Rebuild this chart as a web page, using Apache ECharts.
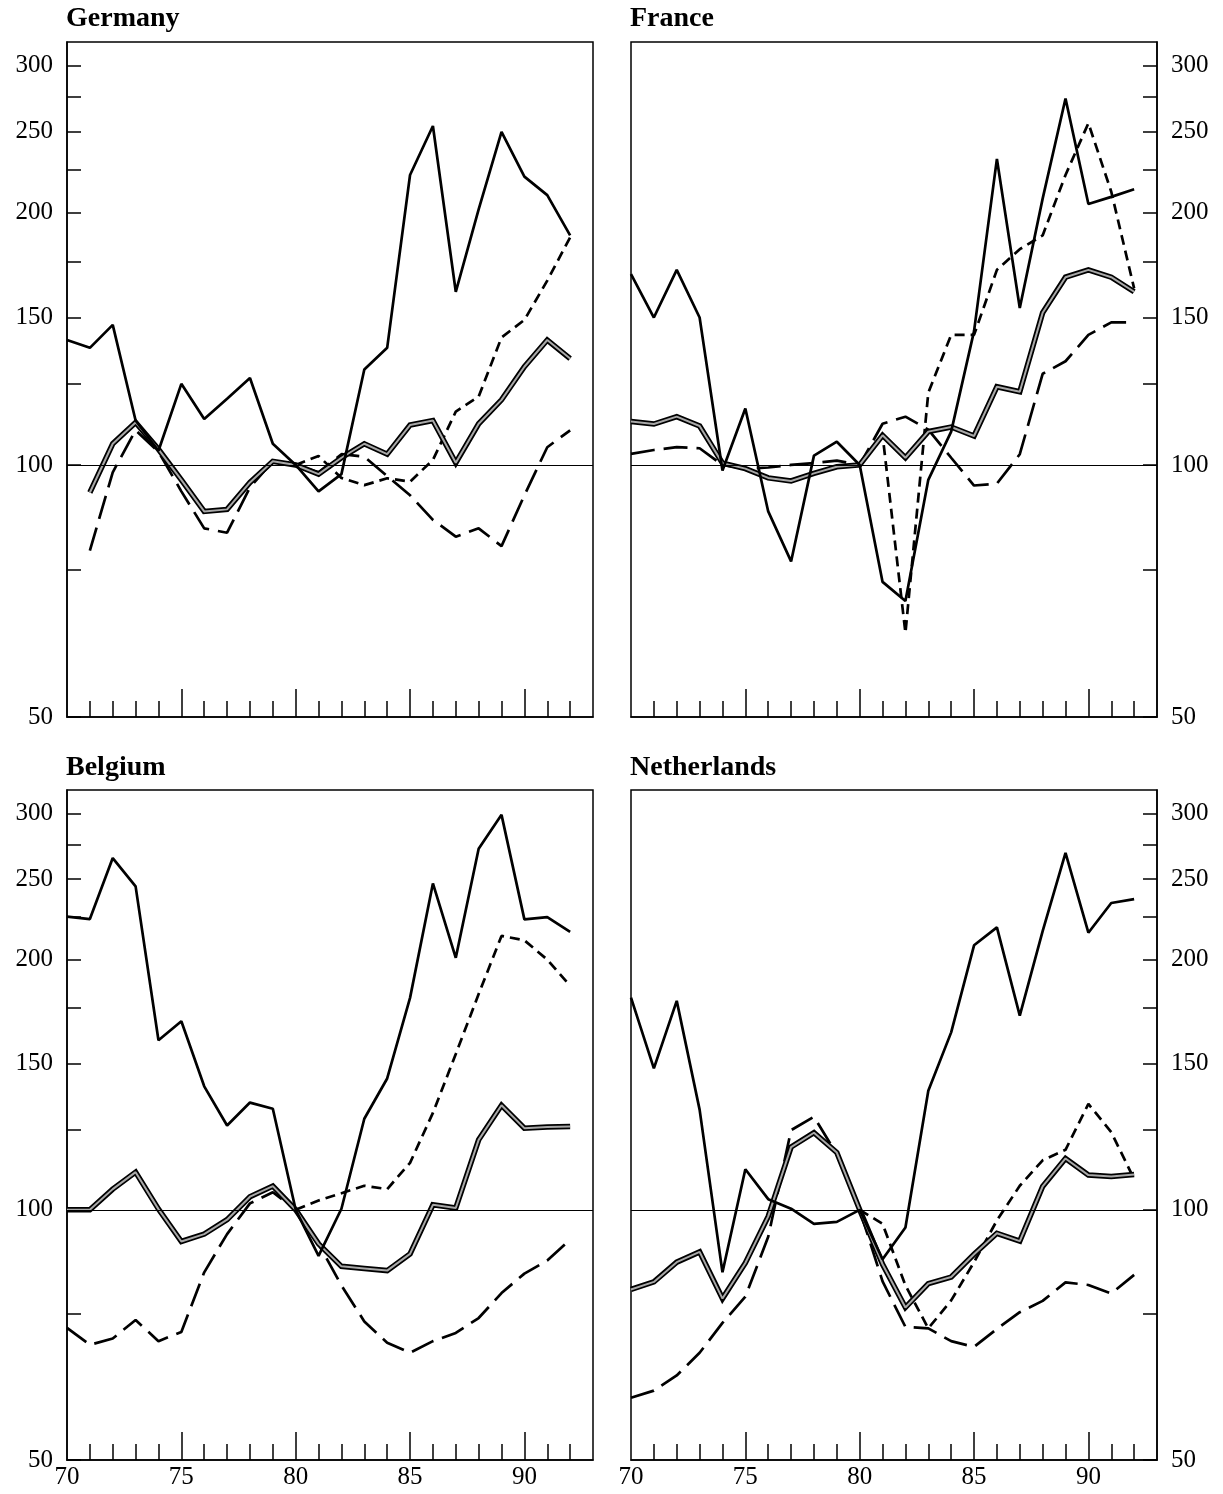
<!DOCTYPE html>
<html><head><meta charset="utf-8">
<script src="https://cdn.jsdelivr.net/npm/echarts@6/dist/echarts.min.js"></script>
<style>html,body{margin:0;padding:0;background:#fff}#c{width:1223px;height:1494px}</style>
</head><body><div id="c"></div>
<script>
const years = [70,71,72,73,74,75,76,77,78,79,80,81,82,83,84,85,86,87,88,89,90,91,92];
const panelNames = ['Germany','France','Belgium','Netherlands'];
const yTickValues = [50,75,100,125,150,175,200,225,250,275,300];
const yLabelValues = [50,100,150,200,250,300];
const xMinorTicks = [71,72,73,74,76,77,78,79,81,82,83,84,86,87,88,89,91,92];
const xMajorTicks = [75,80,85,90];
const xLabelValues = [70,75,80,85,90];

const N = null;
// Germany
const germanyThin  = [141,138,147,113,104,125,113.5,120,127,106,100,93,97.5,130,138,222,254,161,202,250,221,210,188];
const germanyGray  = [N,92.7,106,112.4,104.4,96,88,88.5,95.3,101,100,97.5,102,106,103,111.6,113,100.6,112,119.6,131,141,134];
const germanyLong  = [N,79,98,110,103.7,93,84,83,94,101,100,98,103,102.3,97,92,86,82.1,84,80,92,105,110];
const germanyShort = [N,N,N,N,N,N,N,N,N,N,100,102.5,96.5,94.6,96.4,95.5,101.4,115.8,120.7,142,149,166,187];
// France
const franceThin  = [169,150,171,150,98.5,116.8,88,76.7,102.6,106.6,100,72.5,68.8,96,109.6,144.5,232,154,208,274,205,209,213.5];
const franceGray  = [112.7,111.9,114.2,111.3,100.5,99,96.5,95.7,97.7,99.5,100,108.5,102,109.6,111,108.3,124,122.3,152,167.6,171,167.6,161];
const franceLong  = [103.1,104.2,105,104.7,100,99,99.3,100,100.5,101.2,100,112,114.2,110.2,102,94.5,95,103,128.5,133,143,148,148];
const franceShort = [N,N,N,N,N,N,N,N,N,N,100,108.6,63,122,143,143,171,181,188,222,256,212,162.5];
// Belgium
const belgiumThin  = [225.3,223.8,265,245,160,168.6,140.8,126.3,134.6,132.3,100,88,100.3,128.7,143.9,179.9,247,201,272,298.7,223.6,225,216];
const belgiumGray  = [100,100,105.9,111,100.2,91.6,93.5,97.3,103.7,106.8,100,91,85.5,85,84.5,88.5,101.4,100.5,121.4,133.6,125.4,125.8,126];
const belgiumLong  = [72.1,68.8,70,73.7,69.5,71.3,84.1,93.5,101.8,105,100,91,81.1,73.4,69.2,67.3,69.5,71.1,74.1,79.4,83.8,86.9,92.1];
const belgiumShort = [N,N,N,N,N,N,N,N,N,N,100,102.6,104.7,106.9,105.9,113.9,130.8,154,181.8,213.6,211,200,186];
// Netherlands
const netherlandsThin  = [180,148,178.4,132,84.1,111.9,103,100.3,96.2,96.7,100,87.2,95.2,139.1,163.5,208.1,218.7,171.3,216.5,268.8,215.5,234,236.5];
const netherlandsGray  = [80.2,81.9,86.5,89,78.2,86.3,98.2,119,123.8,117.2,100,86,76.3,81.5,83,88.4,93.7,91.7,106.7,115.3,110.1,109.7,110.3];
const netherlandsLong  = [59.4,60.6,63.2,67.3,73.1,78.6,92.8,124.7,129.4,116.6,100,82,72.3,72,69.5,68.4,71.9,75.3,77.7,81.8,81.2,79.3,83.5];
const netherlandsShort = [N,N,N,N,N,N,N,N,N,N,100,96.2,81.1,72,77.8,86.5,97.1,106.9,114.7,118.1,134.1,124,108.9];

const panels = [
  {thin: germanyThin, gray: germanyGray, long: germanyLong, short: germanyShort},
  {thin: franceThin, gray: franceGray, long: franceLong, short: franceShort},
  {thin: belgiumThin, gray: belgiumGray, long: belgiumLong, short: belgiumShort},
  {thin: netherlandsThin, gray: netherlandsGray, long: netherlandsLong, short: netherlandsShort}
];

const FONT = 'Liberation Serif';
const gridPos = [
  {left: 67, top: 42, width: 526, height: 675},
  {left: 631, top: 42, width: 526, height: 675},
  {left: 67, top: 790, width: 526, height: 670},
  {left: 631, top: 790, width: 526, height: 670}
];
const titlePos = [{left: 66, top: 5}, {left: 630, top: 5}, {left: 66, top: 754}, {left: 630, top: 754}];

function pairs(arr) {
  return years.map((y, i) => [y, arr[i]]).filter(p => p[1] != null);
}

const option = {
  animation: false,
  backgroundColor: '#fff',
  title: panelNames.map((t, i) => ({
    text: t, left: titlePos[i].left, top: titlePos[i].top, padding: 0,
    textStyle: {fontFamily: FONT, fontWeight: 'bold', fontSize: 28, color: '#000'}
  })),
  grid: gridPos.map(g => Object.assign({show: true, borderColor: '#000', borderWidth: 1.5, backgroundColor: 'transparent'}, g)),
  xAxis: [],
  yAxis: [],
  series: []
};

panels.forEach((p, i) => {
  const bottomRow = i >= 2;
  option.xAxis.push({
    type: 'value', gridIndex: i, min: 70, max: 93, position: 'bottom',
    axisLine: {show: true, lineStyle: {color: '#000', width: 1.5}},
    axisTick: {show: true, inside: true, length: 16, customValues: xMinorTicks, lineStyle: {color: '#000', width: 1.5}},
    axisLabel: {show: false},
    splitLine: {show: false}
  });
  option.xAxis.push({
    type: 'value', gridIndex: i, min: 70, max: 93, position: 'bottom',
    axisLine: {show: false},
    axisTick: {show: true, inside: true, length: 28, customValues: xMajorTicks, lineStyle: {color: '#000', width: 1.5}},
    axisLabel: {show: bottomRow, customValues: xLabelValues, fontFamily: FONT, fontSize: 25, color: '#000', margin: 5},
    splitLine: {show: false}
  });
  const rightSide = (i % 2) === 1;
  option.yAxis.push({
    type: 'log', gridIndex: i, min: 50, max: 320, position: rightSide ? 'right' : 'left',
    axisLine: {show: true, lineStyle: {color: '#000', width: 1.5}},
    axisTick: {show: true, inside: true, length: 14, customValues: yTickValues, lineStyle: {color: '#000', width: 1.5}},
    axisLabel: {show: true, customValues: yLabelValues, fontFamily: FONT, fontSize: 25, color: '#000', margin: 14},
    splitLine: {show: false}
  });
  const base = {type: 'line', xAxisIndex: 2 * i, yAxisIndex: i, showSymbol: false, symbol: 'none', silent: true, connectNulls: false};
  option.series.push(Object.assign({}, base, {
    name: panelNames[i] + ' long', data: pairs(p.long),
    lineStyle: {color: '#000', width: 2.7, type: [24, 9]},
    markLine: {silent: true, symbol: ['none', 'none'], label: {show: false},
      lineStyle: {color: '#000', width: 1.2, type: 'solid'}, data: [{yAxis: 100}]}
  }));
  option.series.push(Object.assign({}, base, {
    name: panelNames[i] + ' short', data: pairs(p.short),
    lineStyle: {color: '#000', width: 2.7, type: [10, 6]}
  }));
  option.series.push(Object.assign({}, base, {
    name: panelNames[i] + ' gray outline', data: pairs(p.gray),
    lineStyle: {color: '#000', width: 5.5, type: 'solid', join: 'miter'}
  }));
  option.series.push(Object.assign({}, base, {
    name: panelNames[i] + ' gray', data: pairs(p.gray),
    lineStyle: {color: '#a8a8a8', width: 2, type: 'solid'}
  }));
  option.series.push(Object.assign({}, base, {
    name: panelNames[i] + ' thin', data: pairs(p.thin),
    lineStyle: {color: '#000', width: 2.7, type: 'solid'}
  }));
});

const chart = echarts.init(document.getElementById('c'), null, {renderer: 'canvas'});
chart.setOption(option);
</script>
</body></html>
